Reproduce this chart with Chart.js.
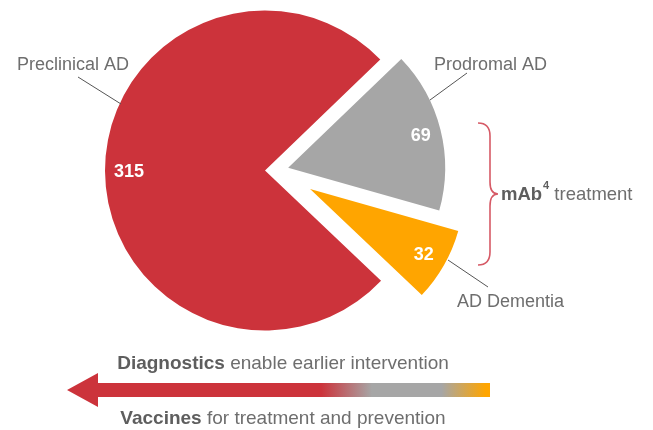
<!DOCTYPE html>
<html>
<head>
<meta charset="utf-8">
<script src="https://cdn.jsdelivr.net/npm/chart.js@4.4.1/dist/chart.umd.min.js"></script>
<style>
  html, body { margin: 0; padding: 0; background: #ffffff; }
  #wrap { width: 653px; height: 430px; position: relative; }
</style>
</head>
<body>
<div id="wrap"><canvas id="c" width="653" height="430"></canvas></div>
<script>
// ---- data ----
const categories = ['Preclinical AD', 'Prodromal AD', 'AD Dementia'];
const values = [315, 69, 32];
const sliceColors = ['#cc333b', '#a6a6a6', '#ffa500'];

// ---- style constants ----
const FONT = '"Liberation Sans", Arial, Helvetica, sans-serif';
const EXPLODE = [12.5, 11, 37.5];     // px each slice is pulled out along its mid angle
const RADII = [160, 157, 154];        // outer radius of each slice
const LABEL_FRAC = [0.85, 0.87, 0.85];
const TEXT_GRAY = '#6e6e6e';

const explodePlugin = {
  id: 'explode',
  afterDatasetUpdate(chart, args) {
    args.meta.data.forEach((arc, i) => {
      const mid = (arc.startAngle + arc.endAngle) / 2;
      arc.x += Math.cos(mid) * EXPLODE[i];
      arc.y += Math.sin(mid) * EXPLODE[i];
      arc.outerRadius = RADII[i];
    });
  }
};

function drawMixed(ctx, parts, cx, y) {
  let total = 0;
  parts.forEach(p => {
    ctx.font = (p.bold ? 'bold ' : '') + p.size + 'px ' + FONT;
    p.w = ctx.measureText(p.text).width;
    total += p.w;
  });
  let x = cx - total / 2;
  ctx.textAlign = 'left';
  ctx.textBaseline = 'middle';
  parts.forEach(p => {
    ctx.font = (p.bold ? 'bold ' : '') + p.size + 'px ' + FONT;
    ctx.fillStyle = p.color;
    ctx.fillText(p.text, x, y);
    x += p.w;
  });
}

const annotationPlugin = {
  id: 'annotations',
  afterDatasetsDraw(chart) {
    const ctx = chart.ctx;
    const meta = chart.getDatasetMeta(0);
    ctx.save();

    // value labels inside slices
    ctx.fillStyle = '#ffffff';
    ctx.font = 'bold 18px ' + FONT;
    ctx.textAlign = 'center';
    ctx.textBaseline = 'middle';
    meta.data.forEach((arc, i) => {
      const mid = (arc.startAngle + arc.endAngle) / 2;
      const r = arc.outerRadius * LABEL_FRAC[i];
      ctx.fillText(String(values[i]), arc.x + Math.cos(mid) * r, arc.y + Math.sin(mid) * r + 1);
    });

    // category labels with leader lines
    ctx.strokeStyle = '#555555';
    ctx.lineWidth = 1;
    const leaders = [
      [[78, 77], [121, 104]],
      [[467, 73], [430, 100]],
      [[448, 260], [488, 287]]
    ];
    leaders.forEach(l => {
      ctx.beginPath();
      ctx.moveTo(l[0][0], l[0][1]);
      ctx.lineTo(l[1][0], l[1][1]);
      ctx.stroke();
    });
    ctx.font = '18px ' + FONT;
    ctx.fillStyle = TEXT_GRAY;
    ctx.textAlign = 'left';
    ctx.textBaseline = 'middle';
    ctx.fillText(categories[0], 17, 65);
    ctx.fillText(categories[1], 434, 65);
    ctx.fillText(categories[2], 457, 302);

    // brace
    ctx.strokeStyle = '#d65a66';
    ctx.lineWidth = 1.6;
    ctx.beginPath();
    ctx.moveTo(478, 123);
    ctx.quadraticCurveTo(490, 123, 490, 136);
    ctx.lineTo(490, 182);
    ctx.quadraticCurveTo(490, 194, 498, 194);
    ctx.quadraticCurveTo(490, 194, 490, 206);
    ctx.lineTo(490, 252);
    ctx.quadraticCurveTo(490, 265, 478, 265);
    ctx.stroke();

    // mAb4 treatment
    ctx.textBaseline = 'middle';
    ctx.textAlign = 'left';
    ctx.font = 'bold 18.5px ' + FONT;
    ctx.fillStyle = '#5e5e5e';
    ctx.fillText('mAb', 501, 195);
    let x = 501 + ctx.measureText('mAb').width + 1;
    ctx.font = 'bold 11px ' + FONT;
    ctx.fillText('4', x, 186);
    x += ctx.measureText('4').width;
    ctx.font = '18.5px ' + FONT;
    ctx.fillStyle = TEXT_GRAY;
    ctx.fillText(' treatment', x, 195);

    // arrow
    const g = ctx.createLinearGradient(68, 0, 490, 0);
    g.addColorStop(0, '#cc333b');
    g.addColorStop(0.60, '#cc333b');
    g.addColorStop(0.72, '#a6a6a6');
    g.addColorStop(0.885, '#a6a6a6');
    g.addColorStop(0.99, '#ffa500');
    g.addColorStop(1, '#ffa500');
    ctx.fillStyle = g;
    ctx.beginPath();
    ctx.moveTo(67, 390);
    ctx.lineTo(98, 373);
    ctx.lineTo(98, 383);
    ctx.lineTo(490, 383);
    ctx.lineTo(490, 397);
    ctx.lineTo(98, 397);
    ctx.lineTo(98, 407);
    ctx.closePath();
    ctx.fill();

    drawMixed(ctx, [
      {text: 'Diagnostics', bold: true, color: '#5e5e5e', size: 19},
      {text: ' enable earlier intervention', bold: false, color: TEXT_GRAY, size: 19}
    ], 283, 364);
    drawMixed(ctx, [
      {text: 'Vaccines', bold: true, color: '#5e5e5e', size: 19},
      {text: ' for treatment and prevention', bold: false, color: TEXT_GRAY, size: 19}
    ], 283, 419);

    ctx.restore();
  }
};

new Chart(document.getElementById('c'), {
  type: 'pie',
  data: {
    labels: categories,
    datasets: [{
      data: values,
      backgroundColor: sliceColors,
      borderWidth: 0
    }]
  },
  options: {
    responsive: false,
    animation: false,
    rotation: 133.5,
    radius: 160,
    layout: { padding: { left: 0, right: 98, top: 1, bottom: 90 } },
    plugins: {
      legend: { display: false },
      tooltip: { enabled: false }
    },
    events: []
  },
  plugins: [explodePlugin, annotationPlugin]
});
</script>
</body>
</html>
